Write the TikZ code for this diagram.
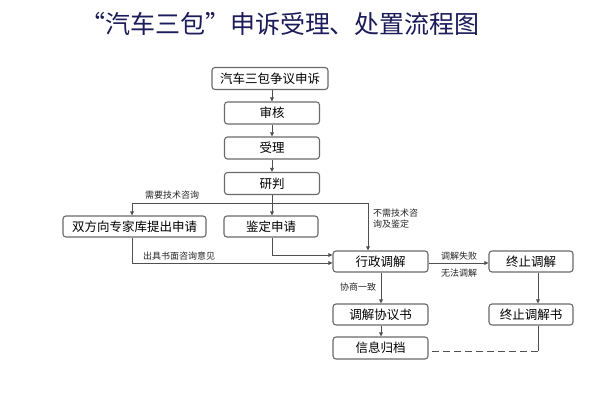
\documentclass[tikz,border=0pt]{standalone}
\usepackage{fontspec}
\newfontfamily\cjk{Noto Sans CJK SC}
\usetikzlibrary{arrows.meta,calc}
\definecolor{navy}{HTML}{1C1C5A}
\definecolor{ln}{HTML}{505050}
\definecolor{bd}{HTML}{6A6A6A}
\begin{document}
\begin{tikzpicture}[x=1pt,y=-1pt,
  box/.style={draw=bd,line width=1.1pt,rounded corners=3pt,minimum height=21pt,inner sep=0pt,font=\cjk\fontsize{12.5}{14}\selectfont,text=black},
  lab/.style={font=\cjk\fontsize{9}{11}\selectfont,text=black!85,inner sep=0pt},
  conn/.style={draw=ln,line width=0.8pt},
  arr/.style={conn,-{Triangle[length=4pt,width=3.6pt]}}]
\useasboundingbox[fill=white] (0,0) rectangle (600,400);
\node[font=\cjk\fontsize{25}{28}\selectfont,text=navy] (title) at (280,24) {“汽车三包”申诉受理、处置流程图};
\node[box,minimum width=116pt,minimum height=22pt] (b1) at (270,78.5) {汽车三包争议申诉};
\node[box,minimum width=95pt,minimum height=22pt] (b2) at (272,113) {审核};
\node[box,minimum width=95pt,minimum height=22pt] (b3) at (272,148) {受理};
\node[box,minimum width=95pt,minimum height=22pt] (b4) at (272,183.5) {研判};
\node[box,minimum width=143pt] (s1) at (134.5,226.5) {双方向专家库提出申请};
\node[box,minimum width=94pt] (s2) at (271,226.5) {鉴定申请};
\node[box,minimum width=95pt] (m) at (380.5,261.5) {行政调解};
\node[box,minimum width=84pt] (t) at (531,261.5) {终止调解};
\node[box,minimum width=95pt] (p) at (380.5,314.5) {调解协议书};
\node[box,minimum width=84pt] (t2) at (531,314.5) {终止调解书};
\node[box,minimum width=95pt,minimum height=22pt] (a) at (380.5,348) {信息归档};
\coordinate (j) at (272,203);
\coordinate (jl) at (132,203);
\coordinate (jr) at (368,203);
\coordinate (k1) at (272,255);
\coordinate (k2) at (132,263);
\coordinate (k3) at (538,351);
% main chain
\draw[arr] (b1.south -| j) -- (b2.north -| j);
\draw[arr] (b2.south -| j) -- (b3.north -| j);
\draw[arr] (b3.south -| j) -- (b4.north -| j);
\draw[conn] (b4.south -| j) -- (j);
\draw[arr] (j) -- (s2.north -| j);
\draw[arr] (j) -- (jl) -- (s1.north -| jl);
\draw[arr] (j) -- (jr) -- (m.north -| jr);
\draw[arr] (s2.south -| k1) -- (k1) -- (m.west |- k1);
\draw[arr] (s1.south -| k2) -- (k2) -- (m.west |- k2);
\draw[arr] (m.east |- k2) -- (t.west |- k2);
\draw[arr] (m.south -| 381,0) -- (p.north -| 381,0);
\draw[arr] (p.south -| 381,0) -- (a.north -| 381,0);
\draw[arr] (t.south -| k3) -- (t2.north -| k3);
\draw[conn] (t2.south -| k3) -- (k3);
\draw[conn,dash pattern=on 7pt off 4pt] (k3) -- (a.east |- k3);
% labels
\node[lab] (l1) at (172,195) {需要技术咨询};
\node[lab] (l2) at (179,256.5) {出具书面咨询意见};
\node[lab,align=left,anchor=north west] (l3) at (373,209) {不需技术咨\\询及鉴定};
\node[lab] (l4) at (459,256) {调解失败};
\node[lab] (l5) at (459,273) {无法调解};
\node[lab] (l6) at (358,287) {协商一致};
\end{tikzpicture}
\end{document}
